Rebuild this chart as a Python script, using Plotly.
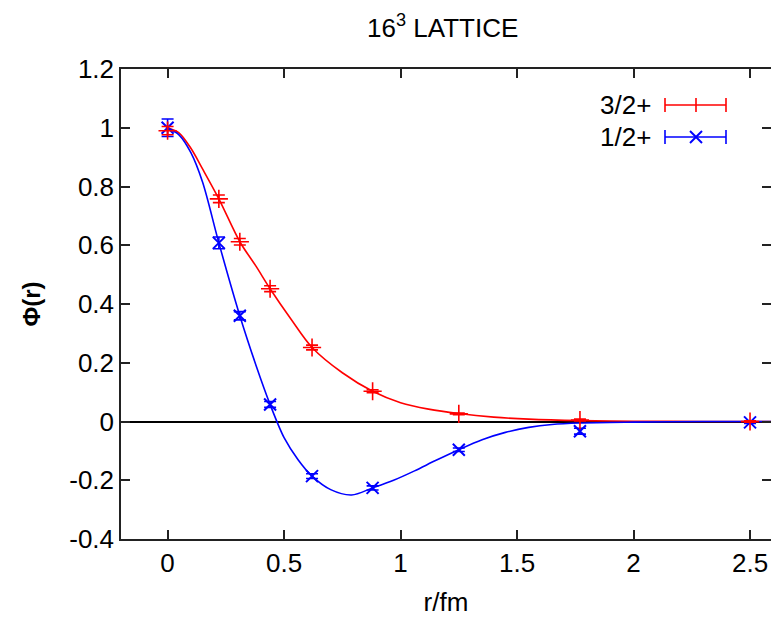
import plotly.graph_objects as go

# ---- data ----
r_points = [0.0, 0.22, 0.31, 0.44, 0.62, 0.88, 1.25, 1.77, 2.5]

red_y = [0.99, 0.758, 0.612, 0.452, 0.252, 0.103, 0.026, 0.005, 0.0]
red_err = [0.014, 0.013, 0.011, 0.010, 0.008, 0.005, 0.003, 0.003, 0.002]

blue_y = [1.0, 0.608, 0.360, 0.058, -0.186, -0.226, -0.096, -0.033, -0.003]
blue_err = [0.030, 0.020, 0.014, 0.010, 0.008, 0.007, 0.006, 0.010, 0.004]

# fitted curves
red_curve_x = [0, 0.05, 0.10, 0.15, 0.22, 0.31, 0.38, 0.44, 0.53, 0.62, 0.75, 0.88,
               1.0, 1.12, 1.25, 1.40, 1.55, 1.77, 2.0, 2.3, 2.6]
red_curve_y = [1.0, 0.982, 0.93, 0.86, 0.758, 0.612, 0.528, 0.452, 0.348, 0.252, 0.166,
               0.103, 0.064, 0.042, 0.027, 0.015, 0.008, 0.003, 0.001, 0.0, 0.0]

blue_curve_x = [0, 0.05, 0.10, 0.15, 0.22, 0.31, 0.38, 0.44, 0.50, 0.56, 0.62,
                0.70, 0.79, 0.88, 0.97, 1.06, 1.15, 1.25, 1.35, 1.45, 1.55, 1.65,
                1.77, 2.0, 2.3, 2.6]
blue_curve_y = [1.0, 0.975, 0.915, 0.815, 0.608, 0.360, 0.19, 0.058, -0.055, -0.13, -0.186,
                -0.232, -0.25, -0.226, -0.200, -0.168, -0.133, -0.096, -0.062, -0.037,
                -0.020, -0.010, -0.005, -0.002, 0.0, 0.0]

x_ticks = [0, 0.5, 1, 1.5, 2, 2.5]
x_ticktext = ["0", "0.5", "1", "1.5", "2", "2.5"]
y_ticks = [-0.4, -0.2, 0, 0.2, 0.4, 0.6, 0.8, 1.0, 1.2]
y_ticktext = ["-0.4", "-0.2", "0", "0.2", "0.4", "0.6", "0.8", "1", "1.2"]

series_names = ["3/2+", "1/2+"]

RED = "#ff0000"
BLUE = "#0000ff"
FONT = "Liberation Sans Narrow, Arial Narrow, Liberation Sans, Arial, sans-serif"

fig = go.Figure()

fig.add_trace(go.Scatter(x=red_curve_x, y=red_curve_y, mode="lines",
                         line=dict(color=RED, width=1.6, shape="spline", smoothing=0.9),
                         showlegend=False, hoverinfo="skip"))
fig.add_trace(go.Scatter(x=blue_curve_x, y=blue_curve_y, mode="lines",
                         line=dict(color=BLUE, width=1.6, shape="spline", smoothing=0.9),
                         showlegend=False, hoverinfo="skip"))

fig.add_trace(go.Scatter(x=r_points, y=blue_y, mode="markers", name=series_names[1],
                         marker=dict(symbol="x-thin", size=12, color=BLUE,
                                     line=dict(color=BLUE, width=2)),
                         error_y=dict(type="data", array=blue_err, color=BLUE,
                                      thickness=1.6, width=6),
                         showlegend=False))
fig.add_trace(go.Scatter(x=r_points, y=red_y, mode="markers", name=series_names[0],
                         marker=dict(symbol="cross-thin", size=13, color=RED,
                                     line=dict(color=RED, width=1.6)),
                         error_y=dict(type="data", array=red_err, color=RED,
                                      thickness=1.6, width=6),
                         showlegend=False))

# ---- manual gnuplot-style key (paper coordinates) ----
L, T, W, H = 121, 69, 650, 470
def px(xp):
    return (xp - L) / W
def py(yp):
    return (T + H - yp) / H

shapes = []
annotations = []
key = [(series_names[0], RED, 105, "plus"), (series_names[1], BLUE, 137, "x")]
for name, col, ypix, kind in key:
    annotations.append(dict(x=px(653), y=py(ypix), xref="paper", yref="paper",
                            text=name, showarrow=False, xanchor="right", yanchor="middle",
                            font=dict(family=FONT, size=26, color="black")))
    shapes.append(dict(type="line", xref="paper", yref="paper",
                       x0=px(665), x1=px(726), y0=py(ypix), y1=py(ypix),
                       line=dict(color=col, width=1.6)))
    for xc in (665, 726):
        shapes.append(dict(type="line", xref="paper", yref="paper",
                           x0=px(xc), x1=px(xc), y0=py(ypix - 7), y1=py(ypix + 7),
                           line=dict(color=col, width=1.6)))
    if kind == "plus":
        shapes.append(dict(type="line", xref="paper", yref="paper",
                           x0=px(696), x1=px(696), y0=py(ypix - 7), y1=py(ypix + 7),
                           line=dict(color=col, width=1.6)))
    else:
        shapes.append(dict(type="line", xref="paper", yref="paper",
                           x0=px(690), x1=px(702), y0=py(ypix - 6), y1=py(ypix + 6),
                           line=dict(color=col, width=2)))
        shapes.append(dict(type="line", xref="paper", yref="paper",
                           x0=px(690), x1=px(702), y0=py(ypix + 6), y1=py(ypix - 6),
                           line=dict(color=col, width=2)))

annotations.append(dict(x=(442 - L) / W, y=(T + H - 27) / H, xref="paper", yref="paper",
                        text="16<sup>3</sup> LATTICE", showarrow=False,
                        xanchor="center", yanchor="middle",
                        font=dict(family=FONT, size=26, color="black")))

fig.update_layout(
    width=771, height=622,
    margin=dict(l=L, r=0, t=T, b=622 - T - H),
    paper_bgcolor="white", plot_bgcolor="white",
    font=dict(family=FONT, size=26, color="black"),
    shapes=shapes, annotations=annotations,
    showlegend=False,
    xaxis=dict(range=[-0.2, 2.59], tickvals=x_ticks, ticktext=x_ticktext,
               ticks="inside", ticklen=9, tickwidth=1.5, tickcolor="#222",
               showline=True, linecolor="#222", linewidth=1.5, mirror="ticks",
               showgrid=False, zeroline=False,
               title=dict(text="r/fm", standoff=16, font=dict(size=26)),
               tickfont=dict(size=26)),
    yaxis=dict(range=[-0.4, 1.2], tickvals=y_ticks, ticktext=y_ticktext,
               ticks="inside", ticklen=9, tickwidth=1.5, tickcolor="#222",
               showline=True, linecolor="#222", linewidth=1.5, mirror=False,
               showgrid=False, zeroline=True, zerolinecolor="black", zerolinewidth=1.5,
               title=dict(text="<b>Φ(r)</b>", standoff=22, font=dict(size=24)),
               tickfont=dict(size=26)),
    yaxis2=dict(range=[-0.4, 1.2], tickvals=y_ticks, ticktext=[""] * len(y_ticks),
                overlaying="y", side="right",
                anchor="x", ticks="inside", ticklen=9, tickwidth=1.5, tickcolor="#222",
                showline=False, showticklabels=False, showgrid=False, zeroline=False),
)
# invisible trace on the right axis so its mirrored ticks are drawn
fig.add_trace(go.Scatter(x=[0], y=[0], yaxis="y2", mode="markers",
                         marker=dict(opacity=0), showlegend=False, hoverinfo="skip"))

fig.write_html("out.html")
